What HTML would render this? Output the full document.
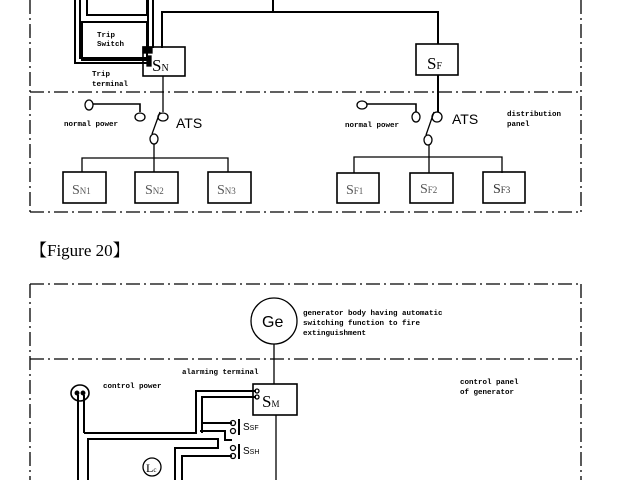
<!DOCTYPE html><html><head><style>body{margin:0;background:#fff}svg{display:block}</style></head><body>
<svg width="640" height="480" viewBox="0 0 640 480" xmlns="http://www.w3.org/2000/svg" font-family="Liberation Mono, monospace">
<g stroke="#000" fill="none" stroke-width="1.3">
<g stroke-dasharray="14,4,2,4">
<line x1="30" y1="0" x2="30" y2="212"/><line x1="581" y1="0" x2="581" y2="212"/>
<line x1="30" y1="92" x2="581" y2="92"/><line x1="30" y1="212" x2="581" y2="212"/>
<line x1="30" y1="284" x2="581" y2="284"/><line x1="30" y1="284" x2="30" y2="480"/><line x1="581" y1="284" x2="581" y2="480"/>
<line x1="30" y1="359" x2="581" y2="359"/>
</g>
<g stroke-width="2">
<polyline points="75,0 75,63 147,63"/><polyline points="80,0 80,58 147,58"/>
<rect x="82" y="22" width="65" height="38"/><rect x="87" y="-2" width="60" height="17"/>
<polyline points="148,0 148,48"/><polyline points="153,0 153,48"/>
<polyline points="162,48 162,12 438,12 438,44"/>
<line x1="273" y1="0" x2="273" y2="12"/>
<line x1="438" y1="75" x2="438" y2="112"/>
</g>
<rect x="143" y="47" width="42" height="29" stroke-width="1.6"/>
<rect x="143" y="47" width="9" height="6" fill="#000"/>
<rect x="147" y="56" width="4" height="10" fill="#000"/>
<rect x="416" y="44" width="42" height="31" stroke-width="1.6"/>
<line x1="163" y1="76" x2="163" y2="112"/>
<ellipse cx="89" cy="105" rx="4" ry="5"/><polyline points="93,104 140,104 140,112" stroke-width="1.6"/><ellipse cx="140" cy="117" rx="5" ry="4"/>
<ellipse cx="163" cy="117" rx="5" ry="4"/><line x1="152" y1="134" x2="160" y2="112"/><ellipse cx="154" cy="139" rx="4" ry="5"/>
<polyline points="154,144 154,158"/><polyline points="82,172 82,158 228,158 228,172"/><line x1="154" y1="158" x2="154" y2="172"/>
<rect x="63" y="172" width="43" height="31" stroke-width="1.6"/><rect x="135" y="172" width="43" height="31" stroke-width="1.6"/><rect x="208" y="172" width="43" height="31" stroke-width="1.6"/>
<ellipse cx="362" cy="105" rx="5" ry="4"/><polyline points="367,104 416,104 416,112" stroke-width="1.6"/><ellipse cx="416" cy="117" rx="4" ry="5"/>
<ellipse cx="437" cy="117" rx="5" ry="5"/><line x1="426" y1="135" x2="434" y2="112"/><ellipse cx="428" cy="140" rx="4" ry="5"/>
<polyline points="354,173 354,157 502,157 502,173"/><line x1="429" y1="145" x2="429" y2="173"/>
<rect x="337" y="173" width="42" height="30" stroke-width="1.6"/><rect x="410" y="173" width="43" height="30" stroke-width="1.6"/><rect x="483" y="172" width="42" height="31" stroke-width="1.6"/>
<circle cx="274" cy="321" r="23"/><line x1="274" y1="344" x2="274" y2="384"/>
<rect x="253" y="384" width="44" height="31" stroke-width="1.6"/><line x1="276" y1="415" x2="276" y2="480"/>
<ellipse cx="80" cy="393" rx="9" ry="8" stroke-width="1.6"/>
<circle cx="77" cy="393" r="1.8" fill="#000"/><circle cx="83" cy="393" r="1.8" fill="#000"/>
<g stroke-width="2">
<line x1="78" y1="395" x2="78" y2="480"/><line x1="84" y1="395" x2="84" y2="433"/>
<polyline points="84,433 196,433 196,391 256,391"/><polyline points="88,480 88,439 218,439 218,448 175,448 175,480"/>
<polyline points="202,433 202,397 256,397"/>
<polyline points="202,423 232,423"/>
<polyline points="200,431 225,431 225,440 232,440"/>
<polyline points="182,480 182,456 232,456"/>
<line x1="239" y1="419" x2="239" y2="435"/><line x1="239" y1="444" x2="239" y2="459"/>
</g>
<circle cx="233" cy="423" r="2.5"/><circle cx="233" cy="431" r="2.5"/><circle cx="233" cy="448" r="2.5"/><circle cx="233" cy="456" r="2.5"/>
<circle cx="257" cy="391" r="2"/><circle cx="257" cy="397" r="2"/>
<circle cx="152" cy="467" r="9"/>
</g>
<g font-size="7.5" font-weight="bold" fill="#000">
<text x="97" y="37">Trip</text><text x="97" y="46">Switch</text>
<text x="92" y="76">Trip</text><text x="92" y="86">terminal</text>
<text x="64" y="126">normal power</text><text x="345" y="127">normal power</text>
<text x="507" y="116">distribution</text><text x="507" y="126">panel</text>
<text x="303" y="315">generator body having automatic</text><text x="303" y="325">switching function to fire</text><text x="303" y="335">extinguishment</text>
<text x="182" y="374">alarming terminal</text><text x="103" y="388">control power</text>
<text x="460" y="384">control panel</text><text x="460" y="394">of generator</text>
</g>
<g font-family="Liberation Serif, serif" fill="#000">
<text x="152" y="71" font-size="17">S<tspan font-size="10">N</tspan></text>
<text x="427" y="69" font-size="17">S<tspan font-size="10">F</tspan></text>
<text x="72" y="194" font-size="14" fill="#555">S<tspan font-size="9">N1</tspan></text>
<text x="145" y="194" font-size="14" fill="#555">S<tspan font-size="9">N2</tspan></text>
<text x="217" y="194" font-size="14" fill="#555">S<tspan font-size="9">N3</tspan></text>
<text x="346" y="194" font-size="14" fill="#555">S<tspan font-size="9">F1</tspan></text>
<text x="420" y="193" font-size="14" fill="#555">S<tspan font-size="9">F2</tspan></text>
<text x="493" y="193" font-size="14" fill="#333">S<tspan font-size="9">F3</tspan></text>
<text x="262" y="407" font-size="17">S<tspan font-size="9">M</tspan></text>
<text x="243" y="430" font-size="10" font-family="Liberation Sans, sans-serif">S<tspan font-size="7">SF</tspan></text>
<text x="243" y="454" font-size="10" font-family="Liberation Sans, sans-serif">S<tspan font-size="7">SH</tspan></text>
<text x="146" y="472" font-size="12">L<tspan font-size="7">c</tspan></text>
<text x="30" y="256" font-size="17" font-family="Liberation Serif, 'Noto Serif CJK SC', serif">【Figure 20】</text>
</g>
<g font-family="Liberation Sans, sans-serif" fill="#000">
<text x="176" y="128" font-size="14">ATS</text><text x="452" y="124" font-size="14">ATS</text>
<text x="262" y="327" font-size="16">Ge</text>
</g>
</svg></body></html>
